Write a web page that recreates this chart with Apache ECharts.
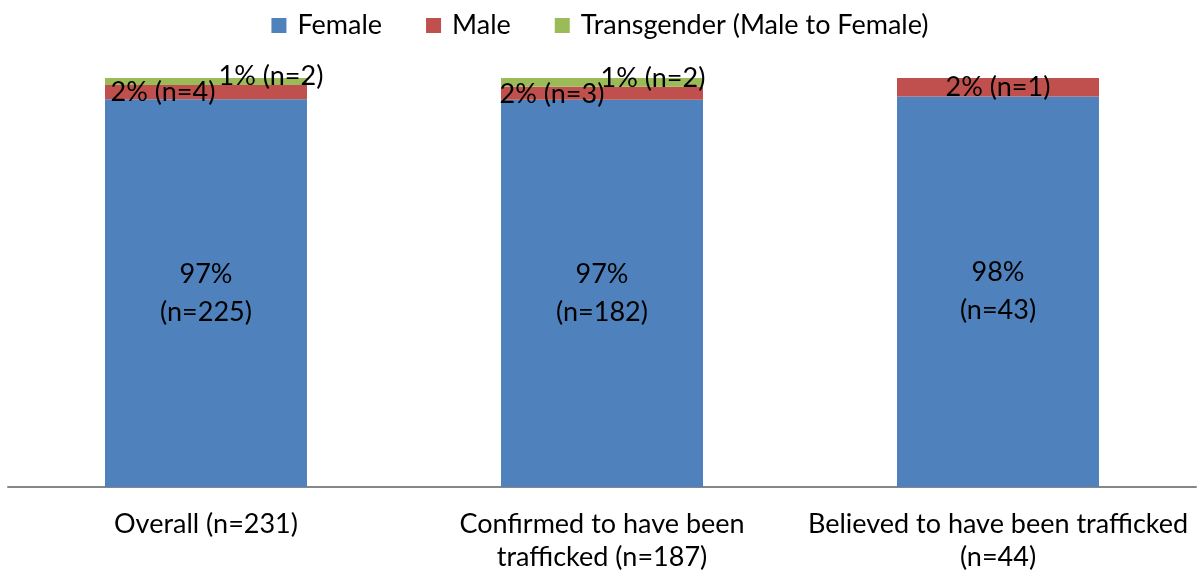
<!DOCTYPE html>
<html lang="en">
<head>
    <meta charset="UTF-8">
    <title>Gender of victims</title>
    <script src="https://cdn.jsdelivr.net/npm/echarts@6/dist/echarts.min.js"></script>
    <style>
        body { margin: 0; background: #fff; }
    </style>
</head>
<body>
<div id="main" style="width: 1200px; height:576px;"></div>
<script type="text/javascript">
    var categories = ['Overall (n=231)', 'Confirmed to have been\ntrafficked (n=187)', 'Believed to have been trafficked\n(n=44)'];
    var totals = [231, 187, 44];
    var female = [225, 182, 43];
    var male = [4, 3, 1];
    var transgender = [2, 2, 0];

    // label nudges, as in the original (male / transgender)
    var maleOffset = [[-43, 0], [-50, 1], [0, 0]];
    var transOffset = [[65, -5], [51, -4], [0, 0]];

    function share(counts, i) {
        return counts[i] / totals[i] * 100;
    }

    function makeData(counts, offsets) {
        return counts.map(function (n, i) {
            var item = { value: share(counts, i), n: n };
            if (offsets) item.label = { offset: offsets[i] };
            return item;
        });
    }

    var font = 'Lato, "Open Sans", sans-serif';
    var fs = 27;

    var myChart = echarts.init(document.getElementById('main'));
    var option = {
        animation: false,
        textStyle: { fontFamily: font },
        legend: {
            top: 7,
            left: 'center',
            itemWidth: 15,
            itemHeight: 15,
            itemGap: 44,
            icon: 'rect',
            textStyle: { fontSize: fs, color: '#000', fontFamily: font, padding: [0, 0, 0, 6] },
            data: ['Female', 'Male', 'Transgender (Male to Female)']
        },
        grid: { left: 8, right: 4, top: 78, bottom: 89, containLabel: false },
        xAxis: {
            type: 'category',
            data: categories,
            axisLine: { lineStyle: { color: '#868686', width: 2 } },
            axisTick: { show: false },
            axisLabel: { fontSize: fs, color: '#000', margin: 21, lineHeight: 33, interval: 0, fontFamily: font }
        },
        yAxis: {
            type: 'value',
            min: 50,
            max: 100,
            show: false,
            splitLine: { show: false }
        },
        series: [
            {
                name: 'Female',
                type: 'bar',
                stack: 'all',
                barWidth: 202,
                itemStyle: { color: '#4F81BD' },
                label: {
                    show: true,
                    position: 'inside',
                    fontSize: fs,
                    lineHeight: 38,
                    color: '#000',
                    fontFamily: font,
                    formatter: function (p) {
                        return Math.round(p.value) + '%\n(n=' + p.data.n + ')';
                    }
                },
                data: makeData(female)
            },
            {
                name: 'Male',
                type: 'bar',
                stack: 'all',
                itemStyle: { color: '#C0504D' },
                label: {
                    show: true,
                    position: 'inside',
                    fontSize: fs,
                    color: '#000',
                    fontFamily: font,
                    formatter: function (p) {
                        return Math.round(p.value) + '% (n=' + p.data.n + ')';
                    }
                },
                data: makeData(male, maleOffset)
            },
            {
                name: 'Transgender (Male to Female)',
                type: 'bar',
                stack: 'all',
                itemStyle: { color: '#9BBB59' },
                label: {
                    show: true,
                    position: 'inside',
                    fontSize: fs,
                    color: '#000',
                    fontFamily: font,
                    formatter: function (p) {
                        return p.data.n ? Math.round(p.value) + '% (n=' + p.data.n + ')' : '';
                    }
                },
                data: makeData(transgender, transOffset)
            }
        ]
    };
    myChart.setOption(option);
</script>
</body>
</html>
